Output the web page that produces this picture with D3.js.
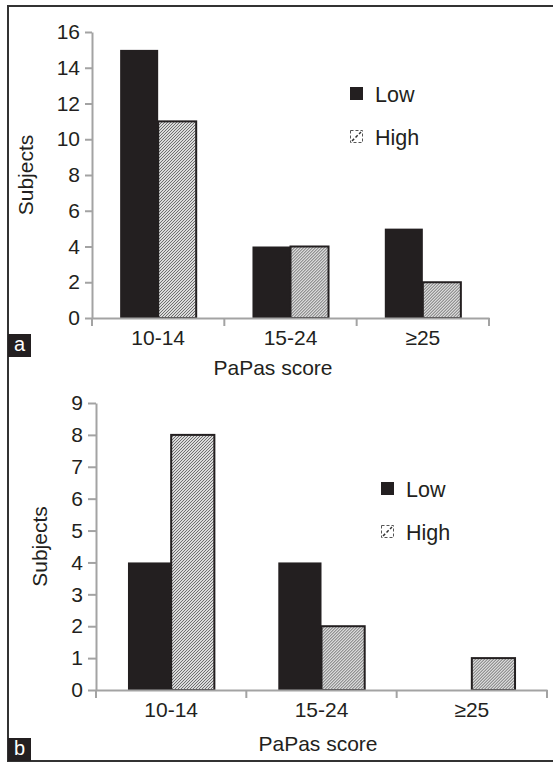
<!DOCTYPE html>
<html>
<head>
<meta charset="utf-8">
<script src="https://cdn.jsdelivr.net/npm/d3@7"></script>
<style>
  body { margin: 0; background: #fff; }
  svg { display: block; }
  text { font-family: "Liberation Sans", Arial, sans-serif; fill: #231f20; }
</style>
</head>
<body>
<div id="chart"></div>
<script>
// PaPas score 分组柱状图（上下两个面板）

const categories = ['10-14', '15-24', '≥25'];
const series = ['Low', 'High'];

// 面板 a
const lowA = [15, 4, 5];
const highA = [11, 4, 2];
const ticksA = [0, 2, 4, 6, 8, 10, 12, 14, 16];

// 面板 b
const lowB = [4, 4, 0];
const highB = [8, 2, 1];
const ticksB = [0, 1, 2, 3, 4, 5, 6, 7, 8, 9];

const W = 553, H = 762;
const ink = '#231f20';
const axisGrey = '#a3a3a3';

const svg = d3.select('#chart').append('svg')
    .attr('width', W).attr('height', H);

// 斜线填充
const defs = svg.append('defs');
const pat = defs.append('pattern')
    .attr('id', 'hatch')
    .attr('patternUnits', 'userSpaceOnUse')
    .attr('width', 3).attr('height', 3);
pat.append('rect').attr('width', 3).attr('height', 3).attr('fill', '#dadada');
pat.append('path')
    .attr('d', 'M-1,1 l2,-2 M0,3 l3,-3 M2,4 l2,-2')
    .attr('stroke', '#6e6e6e').attr('stroke-width', 1);

// 外框
svg.append('path')
    .attr('d', 'M553,6 H8 V761 H553')
    .attr('fill', 'none').attr('stroke', '#333').attr('stroke-width', 2);

function drawPanel(p) {
    const g = svg.append('g');

    const x0 = d3.scaleBand().domain(categories).range(p.xRange).paddingInner(0).paddingOuter(0);
    const x1 = d3.scaleBand().domain(series).range([0, x0.bandwidth()]).paddingInner(0).paddingOuter(0.74);
    const y = d3.scaleLinear().domain([0, d3.max(p.ticks)]).range(p.yRange);

    const rows = categories.map(function (c, i) {
        return { cat: c, values: [{ s: 'Low', v: p.low[i] }, { s: 'High', v: p.high[i] }] };
    });

    // 柱子
    const grp = g.selectAll('.cat').data(rows).enter().append('g')
        .attr('transform', function (d) { return 'translate(' + x0(d.cat) + ',0)'; });

    grp.selectAll('rect').data(function (d) { return d.values.filter(function (e) { return e.v > 0; }); })
        .enter().append('rect')
        .attr('x', function (d) { return x1(d.s); })
        .attr('width', x1.bandwidth())
        .attr('y', function (d) { return y(d.v); })
        .attr('height', function (d) { return y(0) - y(d.v); })
        .attr('fill', function (d) { return d.s === 'Low' ? ink : 'url(#hatch)'; })
        .attr('stroke', ink)
        .attr('stroke-width', function (d) { return d.s === 'Low' ? 0 : 2; });

    // y轴
    const yAxis = g.append('g')
        .attr('transform', 'translate(' + p.xRange[0] + ',0)')
        .call(d3.axisLeft(y).tickValues(p.ticks).tickSize(p.tick).tickSizeOuter(0).tickPadding(5));
    // x轴
    const xAxis = g.append('g')
        .attr('transform', 'translate(0,' + p.yRange[0] + ')')
        .call(d3.axisBottom(x0).tickSize(0).tickSizeOuter(0).tickPadding(12));

    [yAxis, xAxis].forEach(function (a) {
        a.select('.domain').attr('stroke', axisGrey).attr('stroke-width', 2);
        a.selectAll('.tick line').attr('stroke', axisGrey).attr('stroke-width', 2);
        a.selectAll('.tick text').style('font-size', '21px').attr('fill', ink)
            .style('font-family', '"Liberation Sans", Arial, sans-serif');
    });

    // x轴分隔刻度
    g.selectAll('.sep').data(x0.domain().map(function (c) { return x0(c); }).concat([p.xRange[1]]))
        .enter().append('line')
        .attr('x1', function (d) { return d; }).attr('x2', function (d) { return d; })
        .attr('y1', p.yRange[0]).attr('y2', p.yRange[0] + 8)
        .attr('stroke', axisGrey).attr('stroke-width', 2);

    // 轴标题
    g.append('text')
        .attr('transform', 'translate(' + p.yTitleX + ',' + ((p.yRange[0] + p.yRange[1]) / 2) + ') rotate(-90)')
        .attr('text-anchor', 'middle')
        .style('font-size', '21px')
        .text('Subjects');
    g.append('text')
        .attr('x', p.xTitle[0]).attr('y', p.xTitle[1])
        .attr('text-anchor', 'middle')
        .style('font-size', '21px')
        .text('PaPas score');

    // 图例
    const leg = g.append('g').attr('transform', 'translate(' + p.legend[0] + ',' + p.legend[1] + ')');
    const li = leg.selectAll('.li').data(series).enter().append('g')
        .attr('transform', function (d, i) { return 'translate(0,' + i * 43 + ')'; });
    li.filter(function (d) { return d === 'Low'; }).append('rect')
        .attr('width', 13).attr('height', 13).attr('fill', ink);
    const hi = li.filter(function (d) { return d === 'High'; });
    hi.append('rect')
        .attr('x', 0.5).attr('y', 0.5).attr('width', 12).attr('height', 12)
        .attr('fill', '#fff').attr('stroke', '#555').attr('stroke-width', 1)
        .attr('stroke-dasharray', '3,2');
    hi.append('line')
        .attr('x1', 2).attr('y1', 11).attr('x2', 11).attr('y2', 2)
        .attr('stroke', '#333').attr('stroke-width', 1.5).attr('stroke-dasharray', '3,2');
    li.append('text')
        .attr('x', 25).attr('y', 14.5)
        .style('font-size', '21.5px')
        .text(function (d) { return d; });

    // 面板标记
    g.append('rect')
        .attr('x', 8).attr('y', p.tag[1]).attr('width', 23).attr('height', 23)
        .attr('fill', ink);
    g.append('text')
        .attr('x', 19.5).attr('y', p.tag[1] + 17)
        .attr('text-anchor', 'middle')
        .style('font-size', '20px').style('fill', '#fff')
        .text(p.tag[0]);
}

drawPanel({
    low: lowA, high: highA, ticks: ticksA,
    xRange: [92, 489], yRange: [318, 32], tick: 7,
    yTitleX: 33, xTitle: [273, 375],
    legend: [350, 87], tag: ['a', 334]
});

drawPanel({
    low: lowB, high: highB, ticks: ticksB,
    xRange: [96, 547], yRange: [690, 403], tick: 8,
    yTitleX: 47, xTitle: [318, 751],
    legend: [381, 482], tag: ['b', 738]
});
</script>
</body>
</html>
